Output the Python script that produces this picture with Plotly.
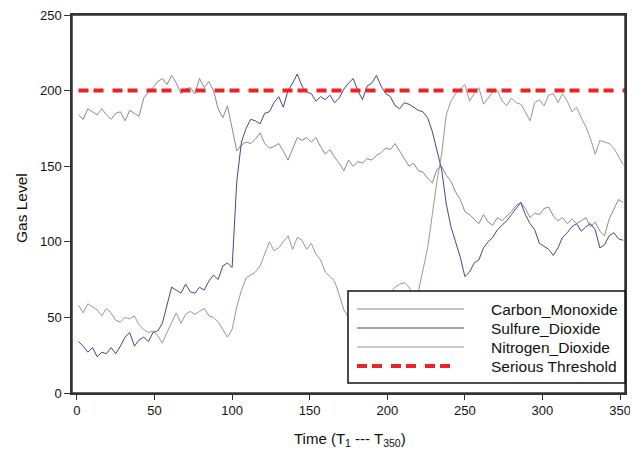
import plotly.graph_objects as go

# ---- data ----
time_pts = [1, 4, 7, 10, 13, 16, 19, 22, 25, 28, 31, 34, 37, 40, 43, 46, 49, 52, 55, 58,
            61, 64, 67, 70, 73, 76, 79, 82, 85, 88, 91, 94, 97, 100, 103, 106, 109, 112, 115, 118,
            121, 124, 127, 130, 133, 136, 139, 142, 145, 148, 151, 154, 157, 160, 163, 166, 169, 172, 175, 178,
            181, 184, 187, 190, 193, 196, 199, 202, 205, 208, 211, 214, 217, 220, 223, 226, 229, 232, 235, 238,
            241, 244, 247, 250, 253, 256, 259, 262, 265, 268, 271, 274, 277, 280, 283, 286, 289, 292, 295, 298,
            301, 304, 307, 310, 313, 316, 319, 322, 325, 328, 331, 334, 337, 340, 343, 346, 349, 352]

carbon_monoxide = [184, 181, 188, 186, 184, 188, 184, 181, 185, 186, 180, 187, 185, 183, 195, 199, 202, 206, 208, 204,
                   210, 205, 198, 201, 202, 198, 208, 202, 206, 200, 188, 182, 190, 175, 160, 164, 166, 165, 168, 172,
                   165, 162, 163, 165, 160, 154, 162, 169, 167, 169, 166, 169, 163, 158, 161, 156, 152, 147, 154, 150,
                   153, 152, 155, 154, 157, 159, 162, 161, 165, 160, 155, 150, 152, 147, 146, 142, 139, 148, 150, 144,
                   140, 133, 128, 120, 118, 115, 112, 118, 113, 111, 116, 114, 117, 120, 124, 126, 122, 116, 119, 118,
                   122, 123, 117, 114, 116, 112, 115, 112, 114, 116, 110, 113, 107, 104, 115, 122, 128, 126]

sulfure_dioxide = [34, 31, 27, 30, 24, 27, 26, 30, 26, 31, 37, 40, 31, 35, 37, 34, 40, 41, 46, 58,
                   70, 68, 66, 72, 67, 66, 70, 68, 74, 78, 75, 84, 86, 83, 140, 166, 175, 181, 180, 178,
                   185, 186, 192, 196, 189, 200, 205, 211, 203, 199, 198, 193, 196, 194, 197, 192, 195, 201, 205, 208,
                   200, 194, 203, 205, 210, 203, 198, 196, 190, 188, 192, 191, 189, 187, 186, 182, 173, 160, 148, 125,
                   110, 100, 90, 77, 80, 86, 88, 96, 100, 103, 108, 111, 114, 118, 122, 126, 118, 112, 108, 99,
                   97, 95, 91, 96, 103, 106, 110, 112, 107, 110, 112, 108, 96, 98, 104, 106, 102, 101]

nitrogen_dioxide = [58, 53, 59, 57, 55, 51, 56, 53, 48, 47, 50, 49, 51, 45, 42, 40, 41, 38, 33, 40,
                    46, 53, 46, 52, 54, 52, 54, 56, 51, 50, 47, 42, 37, 42, 57, 68, 76, 78, 80, 84,
                    92, 100, 94, 96, 100, 104, 95, 103, 101, 95, 99, 92, 88, 80, 77, 74, 65, 55, 50, 55,
                    58, 60, 57, 62, 60, 64, 62, 66, 70, 72, 73, 70, 64, 67, 82, 96, 118, 140, 158, 184,
                    193, 198, 201, 204, 193, 198, 202, 191, 195, 199, 200, 193, 190, 195, 192, 191, 186, 180, 192, 194,
                    190, 197, 198, 192, 198, 193, 186, 189, 182, 176, 168, 158, 167, 166, 165, 162, 156, 151]

threshold_x = [1, 353.2]
threshold_y = [200, 200]

series_names = ["Carbon_Monoxide", "Sulfure_Dioxide", "Nitrogen_Dioxide", "Serious Threshold"]
x_ticks = [0, 50, 100, 150, 200, 250, 300, 350]
y_ticks = [0, 50, 100, 150, 200, 250]
x_title = "Time (T<sub>1</sub> --- T<sub>350</sub>)"
y_title = "Gas Level"

# ---- styles ----
FONT = "Liberation Sans, Arial, sans-serif"
colors = ["#8a8a8a", "#45458a", "#a39292", "#ee2222"]
dash_pat = "10px,5px,10px,9px"

OFF = 8                      # default page body margin
W, H = 638 - OFF, 453 - OFF  # figure size that fits the window
L, T = 72 - OFF, 15 - OFF    # plot-area left/top in figure pixels
R = W - (625 - OFF)
B = H - (393 - OFF)
PW, PH = W - L - R, H - T - B

def px(xp):   # page pixel -> paper x
    return (xp - OFF - L) / PW

def py(yp):   # page pixel -> paper y
    return (H - B - (yp - OFF)) / PH

fig = go.Figure()
for name, vals, col in zip(series_names[:3],
                           [carbon_monoxide, sulfure_dioxide, nitrogen_dioxide], colors[:3]):
    fig.add_trace(go.Scatter(x=time_pts, y=vals, mode="lines", name=name,
                             line=dict(color=col, width=1), showlegend=False))

fig.add_trace(go.Scatter(x=threshold_x, y=threshold_y, mode="lines", name=series_names[3],
                         line=dict(color=colors[3], width=4, dash=dash_pat), showlegend=False))

# frame around the plot area
shapes = [dict(type="rect", xref="paper", yref="paper", x0=0, x1=1, y0=0, y1=1,
               line=dict(color="#333", width=1.5), fillcolor="rgba(0,0,0,0)", layer="above")]

# ---- manual legend (to get long line samples) ----
shapes.append(dict(type="rect", xref="paper", yref="paper",
                   x0=px(348), x1=1.0, y0=py(383), y1=py(291),
                   fillcolor="white", line=dict(color="#111", width=1.5), layer="above"))
row_y = [309, 328, 347, 366]
annotations = []
for i, name in enumerate(series_names):
    xe = 464 if i < 3 else 453
    shapes.append(dict(type="line", xref="paper", yref="paper",
                       x0=px(357), x1=px(xe), y0=py(row_y[i]), y1=py(row_y[i]),
                       line=dict(color=colors[i], width=1 if i < 3 else 4,
                                 dash="solid" if i < 3 else dash_pat),
                       layer="above"))
    annotations.append(dict(xref="paper", yref="paper", x=px(489), y=py(row_y[i]),
                            text=name, showarrow=False, xanchor="left", yanchor="middle",
                            font=dict(family=FONT, size=15.5, color="#111")))

# axis titles as annotations (fixed positions)
annotations.append(dict(xref="paper", yref="paper", x=px(350), y=py(439),
                        text=x_title, showarrow=False, xanchor="center", yanchor="middle",
                        font=dict(family=FONT, size=15, color="#111")))
annotations.append(dict(xref="paper", yref="paper", x=px(21), y=py(208),
                        text=y_title, showarrow=False, xanchor="center", yanchor="middle",
                        textangle=-90, font=dict(family=FONT, size=15.5, color="#111")))

fig.update_layout(
    width=W, height=H,
    margin=dict(l=L, r=R, t=T, b=B),
    paper_bgcolor="white", plot_bgcolor="white",
    font=dict(family=FONT, size=13, color="#111"),
    shapes=shapes, annotations=annotations,
    showlegend=False,
)
fig.update_xaxes(range=[-3.2, 353.2], tickvals=x_ticks, ticks="outside", ticklen=5,
                 tickcolor="#333", showline=True, linecolor="#333", linewidth=1.5,
                 mirror=True, showgrid=False, zeroline=False, automargin=False,
                 ticklabeloverflow="allow",
                 tickfont=dict(family=FONT, size=13))
fig.update_yaxes(range=[0, 250], tickvals=y_ticks, ticks="outside", ticklen=6,
                 tickcolor="#333", showline=True, linecolor="#333", linewidth=1.5,
                 mirror=True, showgrid=False, zeroline=False, automargin=False,
                 ticklabeloverflow="allow",
                 tickfont=dict(family=FONT, size=13))

fig.write_html("out.html")
